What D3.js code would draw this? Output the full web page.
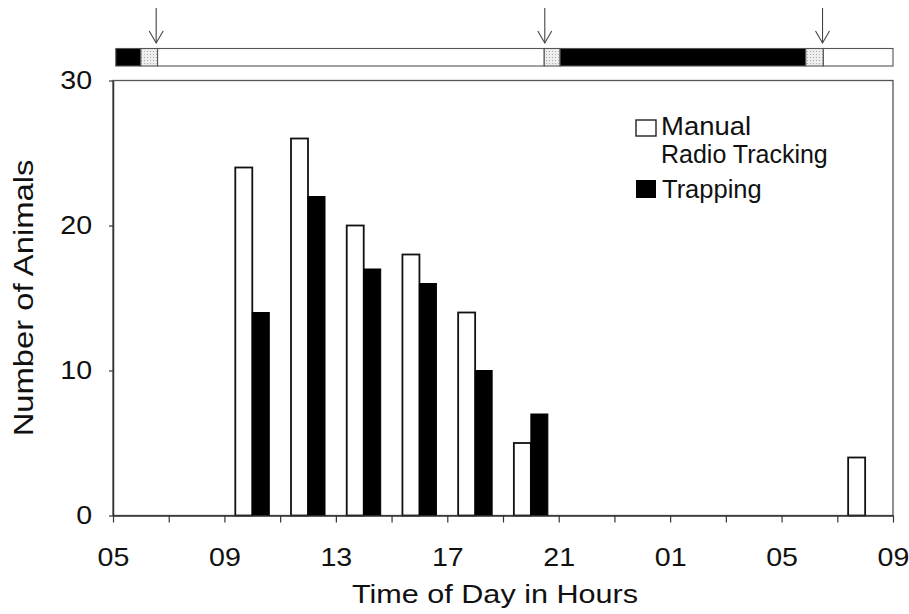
<!DOCTYPE html>
<html>
<head>
<meta charset="utf-8">
<script src="https://cdn.jsdelivr.net/npm/d3@7"></script>
<style>
  html, body { margin: 0; padding: 0; background: #fff; }
  svg text { font-family: "Liberation Sans", Arial, Helvetica, sans-serif; fill: #111; }
</style>
</head>
<body>
<svg id="chart" width="909" height="614"></svg>
<script>
// ---- data ----
// bin centre, clock hours counted from midnight of day 1 (32 = 08:00 next day)
const binHours = [10, 12, 14, 16, 18, 20, 32];
const radioTracking = [24, 26, 20, 18, 14, 5, 4];
const trapping = [14, 22, 17, 16, 10, 7, 0];

const xTickValues = [5, 7, 9, 11, 13, 15, 17, 19, 21, 23, 25, 27, 29, 31, 33];
const xTickLabels = ["05", "09", "13", "17", "21", "01", "05", "09"];
const yTickValues = [0, 10, 20, 30];

// light / dark schedule shown above the plot
const phaseStart = [5.1, 6.0, 6.6, 20.48, 21.05, 29.87, 30.5];
const phaseEnd   = [6.0, 6.6, 20.48, 21.05, 29.87, 30.5, 33];
const phaseType  = ["dark", "twilight", "light", "twilight", "dark", "twilight", "light"];
const arrowHours = [6.55, 20.5, 30.47];

const seriesNames = ["Manual", "Radio Tracking", "Trapping"];

// ---- layout ----
const svg = d3.select("#chart");
const x = d3.scaleLinear().domain([5, 33]).range([113, 893]);
const y = d3.scaleLinear().domain([0, 30]).range([515.5, 80.5]);
const barSpan = 0.61; // hours of width per bar

const axisColor = "#333";

// frame
svg.append("rect")
  .attr("x", x(5)).attr("y", y(30))
  .attr("width", x(33) - x(5)).attr("height", y(0) - y(30))
  .attr("fill", "none").attr("stroke", "#555").attr("stroke-width", 1.3);

// bars
const bars = svg.append("g");
binHours.forEach((h, i) => {
  if (radioTracking[i] > 0) {
    bars.append("rect")
      .attr("x", x(h - barSpan)).attr("y", y(radioTracking[i]))
      .attr("width", x(h) - x(h - barSpan)).attr("height", y(0) - y(radioTracking[i]))
      .attr("fill", "#fff").attr("stroke", "#111").attr("stroke-width", 1.8);
  }
  if (trapping[i] > 0) {
    bars.append("rect")
      .attr("x", x(h)).attr("y", y(trapping[i]))
      .attr("width", x(h + barSpan) - x(h)).attr("height", y(0) - y(trapping[i]))
      .attr("fill", "#000").attr("stroke", "#000").attr("stroke-width", 1);
  }
});

// x axis
const xAxis = d3.axisBottom(x)
  .tickValues(xTickValues)
  .tickSize(7).tickSizeOuter(0).tickPadding(25)
  .tickFormat(d => ((d - 5) % 4 === 0) ? xTickLabels[(d - 5) / 4] : "");
const gx = svg.append("g").attr("transform", `translate(0,${y(0)})`).call(xAxis);
gx.select(".domain").attr("stroke", axisColor).attr("stroke-width", 1.5);
gx.selectAll(".tick line").attr("stroke", axisColor).attr("stroke-width", 1.2);
gx.selectAll(".tick text").attr("font-size", 26).attr("transform", "scale(1.1,1)");

// y axis
const yAxis = d3.axisLeft(y).tickValues(yTickValues).tickSize(4).tickSizeOuter(0).tickFormat(d3.format("d"));
const gy = svg.append("g").attr("transform", `translate(${x(5)},0)`).call(yAxis);
gy.select(".domain").attr("stroke", axisColor).attr("stroke-width", 1.5);
gy.selectAll(".tick line").attr("stroke", axisColor).attr("stroke-width", 1.2);
gy.selectAll(".tick text").attr("font-size", 26).attr("x", -19).attr("transform", "scale(1.1,1)");

// axis titles
svg.append("text")
  .attr("transform", `translate(${(x(5) + x(33)) / 2 - 8},603) scale(1.2,1)`)
  .attr("text-anchor", "middle").attr("font-size", 25.5)
  .text("Time of Day in Hours");
svg.append("text")
  .attr("transform", `translate(33,${(y(0) + y(30)) / 2}) rotate(-90) scale(1.17,1)`)
  .attr("text-anchor", "middle").attr("font-size", 28)
  .text("Number of Animals");

// legend
const lg = svg.append("g");
lg.append("rect").attr("x", 636).attr("y", 120).attr("width", 20).attr("height", 16)
  .attr("fill", "#fff").attr("stroke", "#222").attr("stroke-width", 1.4);
lg.append("text").attr("x", 661).attr("y", 135.5).attr("font-size", 25).attr("transform", "translate(-66,0) scale(1.1,1)").attr("x", 661 / 1.1 + 60).text(seriesNames[0]);
lg.append("text").attr("x", 661).attr("y", 162.5).attr("font-size", 25).text(seriesNames[1]);
lg.append("rect").attr("x", 636).attr("y", 180).attr("width", 20).attr("height", 18)
  .attr("fill", "#000");
lg.append("text").attr("x", 662).attr("y", 198).attr("font-size", 25.5).text(seriesNames[2]);

// light schedule bar
const defs = svg.append("defs");
const pat = defs.append("pattern").attr("id", "stipple")
  .attr("width", 3).attr("height", 3).attr("patternUnits", "userSpaceOnUse");
pat.append("rect").attr("width", 3).attr("height", 3).attr("fill", "#eee");
pat.append("rect").attr("width", 1).attr("height", 1).attr("fill", "#aaa");

const fillFor = { dark: "#000", twilight: "url(#stipple)", light: "#fff" };
const sb = svg.append("g");
phaseStart.forEach((s, i) => {
  sb.append("rect")
    .attr("x", x(s)).attr("y", 48.5)
    .attr("width", x(phaseEnd[i]) - x(s)).attr("height", 17.5)
    .attr("fill", fillFor[phaseType[i]])
    .attr("stroke", "#555").attr("stroke-width", 1.1);
});

// arrows
arrowHours.forEach(h => {
  const ax = x(h);
  sb.append("line").attr("x1", ax).attr("x2", ax).attr("y1", 8).attr("y2", 43)
    .attr("stroke", "#444").attr("stroke-width", 1.1);
  sb.append("path").attr("d", `M${ax - 7},31 L${ax},43 L${ax + 7},31`)
    .attr("fill", "none").attr("stroke", "#444").attr("stroke-width", 1.1);
});
</script>
</body>
</html>
